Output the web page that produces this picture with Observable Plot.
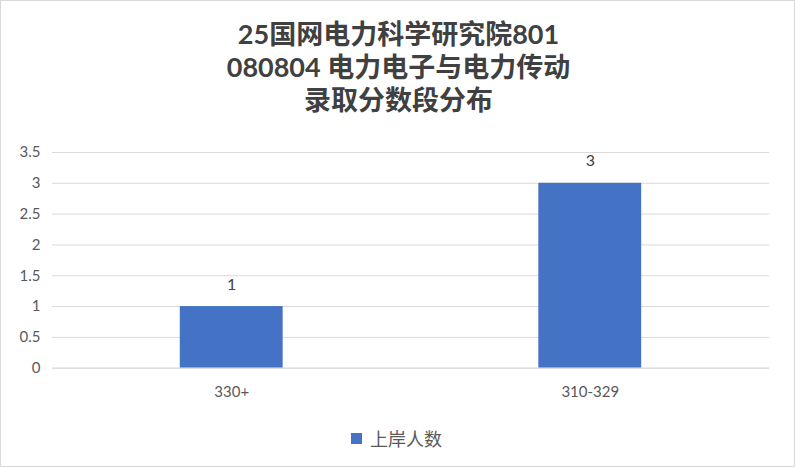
<!DOCTYPE html>
<html><head><meta charset="utf-8">
<script src="https://cdn.jsdelivr.net/npm/d3@7"></script>
<script src="https://cdn.jsdelivr.net/npm/@observablehq/plot@0.6"></script>
<style>
html,body{margin:0;padding:0;background:#fff;}
#wrap{position:relative;width:793px;height:465px;border:1px solid #d9d9d9;background:#fff;overflow:hidden;font-family:Lato,"Noto Sans CJK SC",sans-serif;}
#title{position:absolute;left:0;top:16px;width:795px;text-align:center;font-weight:bold;font-size:27px;line-height:33px;color:#404040;}
#chart{position:absolute;left:-1px;top:129px;}
#legend{position:absolute;top:424px;left:350px;font-size:18px;color:#595959;display:flex;align-items:center;}
#legend span.sw{display:inline-block;width:11px;height:11px;background:#4472C4;margin-right:8px;}
</style></head>
<body><div id="wrap">
<div id="title">25国网电力科学研究院801<br>080804 电力电子与电力传动<br>录取分数段分布</div>
<div id="chart"></div>
<div id="legend"><span class="sw"></span><span>上岸人数</span></div>
</div>
<script>
const categories = ["330+", "310-329"];
const values = [1, 3];
const seriesName = "上岸人数";
const yTicks = [0, 0.5, 1, 1.5, 2, 2.5, 3, 3.5];

const data = categories.map((c, i) => ({category: c, value: values[i]}));
const fmt = d => String(d);

const plot = Plot.plot({
  width: 795,
  height: 270,
  marginTop: 22,
  marginBottom: 32,
  marginLeft: 52,
  marginRight: 25,
  style: {fontFamily: 'Lato,"Noto Sans CJK SC",sans-serif', fontSize: "15px", color: "#595959", background: "transparent"},
  x: {domain: categories, paddingInner: 0.713, paddingOuter: 0.3565, label: null},
  y: {domain: [0, 3.5], ticks: yTicks, label: null, tickFormat: fmt},
  marks: [
    Plot.gridY(yTicks, {stroke: "#d9d9d9", strokeOpacity: 1, strokeWidth: 1}),
    Plot.barY(data, {x: "category", y: "value", fill: "#4472C4"}),
    Plot.ruleY([0], {stroke: "#d9d9d9", strokeWidth: 1}),
    Plot.text(data, {x: "category", y: "value", text: d => fmt(d.value), dy: -22, fill: "#404040", fontSize: 16}),
    Plot.axisY(yTicks, {tickSize: 0, tickPadding: 12, tickFormat: fmt, fill: "#595959", fontSize: 15}),
    Plot.axisX({tickSize: 0, tickPadding: 18, fill: "#595959", fontSize: 15})
  ]
});
document.getElementById("chart").appendChild(plot);
</script>
</body></html>
